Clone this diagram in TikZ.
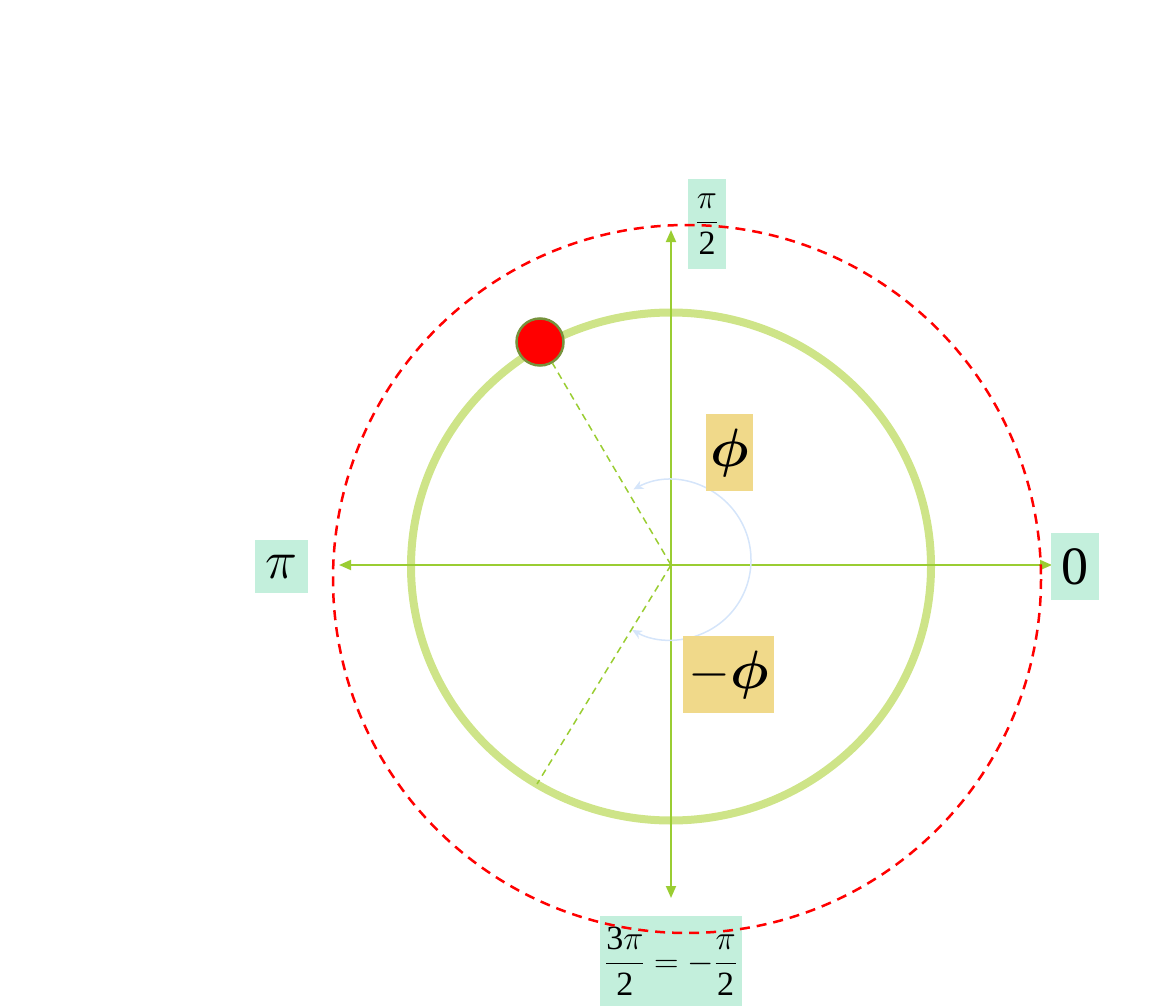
\RequirePackage{fix-cm}
\documentclass[tikz,border=0pt]{standalone}
\usepackage{amsmath}
\usepackage{amsbsy}
\usepackage{fontspec}
\setmainfont{Liberation Serif}
\usetikzlibrary{arrows.meta}
\definecolor{axisg}{HTML}{9ACD32}
\definecolor{ringg}{HTML}{CEE488}
\definecolor{mint}{HTML}{C3EFDC}
\definecolor{gold}{HTML}{F0D98A}
\definecolor{balledge}{HTML}{76923C}
\definecolor{arcblue}{HTML}{D5E5FA}
\newcommand{\tnum}[1]{\text{\upshape #1}}
\tikzset{
  mintbox/.style={fill=mint, inner sep=0pt, anchor=center},
  goldbox/.style={fill=gold, inner sep=0pt, anchor=center},
  axisline/.style={axisg, line width=1.8pt, {Triangle[length=12pt,width=10pt]}-{Triangle[length=12pt,width=10pt]}},
  radial/.style={axisg, line width=1.5pt, dash pattern=on 7pt off 5pt},
  bigtxt/.style={font=\fontsize{54}{60}\selectfont},
  fractxt/.style={font=\fontsize{34}{40}\selectfont},
}
\begin{document}
\begin{tikzpicture}[x=1pt,y=-1pt]
\useasboundingbox (0,0) rectangle (1157,1006);
\coordinate (O) at (671,565);
\coordinate (Oarc) at (671,560);
\coordinate (axL) at (339,565);
\coordinate (axR) at (1052,565);
\coordinate (axT) at (671,230);
\coordinate (axB) at (671,898);
\coordinate (L) at (537,784);

% green ring
\draw[ringg, line width=8pt] (671,566.5) ellipse [x radius=260, y radius=254];

% axes
\draw[axisline] (axL) -- (axR);
\draw[axisline] (axB) -- (axT);

% ball
\node[circle, minimum size=47pt, inner sep=0pt, fill=red, draw=balledge, line width=2.5pt] (ball) at (540,342) {};

% radial dashed lines
\draw[radial] (O) -- (ball);
\draw[radial] (O) -- (L);

% blue angle arc
\draw[arcblue, line width=1.5pt, {Stealth[length=10pt,width=9pt]}-{Stealth[length=10pt,width=9pt]}]
  ([shift={(-118:80)}]Oarc) arc [start angle=-118, end angle=119, radius=80];

% labels
\node[mintbox, minimum width=38pt, minimum height=90pt, fractxt] (lt) at (707,224) {$\displaystyle\frac{\pi}{\tnum{2}}$};
\node[mintbox, minimum width=53pt, minimum height=53pt, bigtxt] (ll) at (281.5,566.5) {$\pi$};
\node[mintbox, minimum width=48pt, minimum height=67pt, bigtxt] (lr) at (1075,566.5) {0};
\node[mintbox, minimum width=142pt, minimum height=90pt, fractxt] (lb) at (671,961) {$\displaystyle\frac{\tnum{3}\pi}{\tnum{2}}=-\frac{\pi}{\tnum{2}}$};
\node[goldbox, minimum width=47pt, minimum height=77pt, bigtxt] (phi) at (729.5,452.5) {$\boldsymbol{\phi}$};
\node[goldbox, minimum width=91pt, minimum height=77pt, bigtxt] (mphi) at (728.5,674.5) {$-\boldsymbol{\phi}$};

% red dashed circle
\draw[red, line width=2.5pt, dash pattern=on 10pt off 7pt] (687,579) circle [radius=354];
\end{tikzpicture}
\end{document}
